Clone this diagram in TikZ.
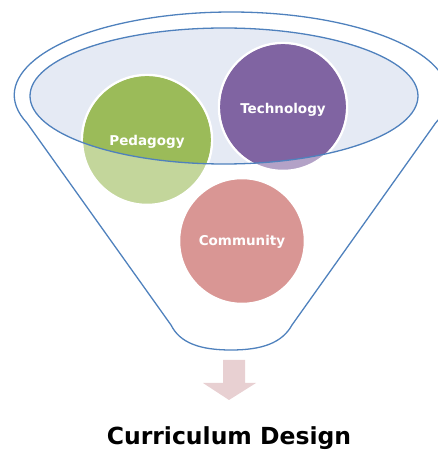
\documentclass[tikz,border=0pt]{standalone}
\usepackage{fontspec}
\setmainfont{DejaVu Sans}
\definecolor{fblue}{RGB}{79,129,189}
\definecolor{bowl}{RGB}{229,234,244}
\definecolor{pedf}{RGB}{155,187,89}
\definecolor{pedl}{RGB}{195,214,155}
\definecolor{techf}{RGB}{128,100,162}
\definecolor{techl}{RGB}{179,162,199}
\definecolor{commf}{RGB}{217,150,148}
\definecolor{arrowc}{RGB}{232,208,210}
\begin{document}
\begin{tikzpicture}[x=1pt,y=1pt,
  ball/.style={circle, draw=white, line width=2.5pt, inner sep=0pt},
  lbl/.style={text=white, font=\fontsize{13.5}{13.5}\selectfont\bfseries},
  funnelline/.style={draw=fblue, line width=1.3pt}]
\useasboundingbox (0,0) rectangle (438,451);
% outer funnel
\draw[funnelline] (171,126) -- (27,328) arc[start angle=199.7, end angle=-19.7, x radius=217, y radius=83] -- (292,126)
  .. controls (282,108) and (262,101) .. (231,101) .. controls (200,101) and (180,108) .. (171,126) -- cycle;
% bowl
\fill[bowl] (224,355) ellipse[x radius=194, y radius=68];
% circles (light)
\node[ball, fill=pedl, minimum size=130pt] (ped) at (147,311) {};
\node[ball, fill=techl, minimum size=128pt] (tech) at (283,344) {};
\node[ball, fill=commf, minimum size=126pt] (comm) at (242,210) {};
% full colour inside bowl
\begin{scope}
  \clip (224,355) ellipse[x radius=194, y radius=68];
  \fill[pedf] (ped.center) circle[radius=63.8];
  \fill[techf] (tech.center) circle[radius=62.8];
\end{scope}
\node[lbl] (pedt) at (147,309) {Pedagogy};
\node[lbl] (techt) at (283,341) {Technology};
\node[lbl] (commt) at (242,209) {Community};
% bowl outline
\draw[funnelline] (224,355) ellipse[x radius=194, y radius=68];
% arrow
\fill[arrowc] (223,91) -- (245,91) -- (245,68) -- (256,68) -- (229,51) -- (203,68) -- (223,68) -- cycle;
% title
\node[font=\fontsize{23.5}{23.5}\selectfont\bfseries] (title) at (229,13) {Curriculum Design};
\end{tikzpicture}
\end{document}
